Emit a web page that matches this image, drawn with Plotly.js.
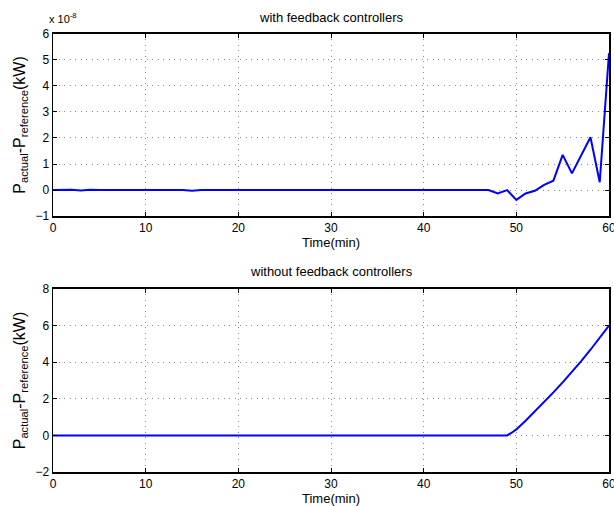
<!DOCTYPE html>
<html><head><meta charset="utf-8">
<script src="https://cdn.plot.ly/plotly-3.0.1.min.js"></script>
<style>html,body{margin:0;padding:0;background:#fff}#c{width:614px;height:506px}</style>
</head><body><div id="c"></div>
<script>
// top: with feedback controllers (values in units of 1e-8 kW)
var timeTop = [0,1,2,3,4,5,6,7,8,9,10,11,12,13,14,15,16,17,18,19,20,21,22,23,24,25,26,27,28,29,30,31,32,33,34,35,36,37,38,39,40,41,42,43,44,45,46,47,48,49,50,51,52,53,54,55,56,57,58,59,60];
var devTop = [0,0,0.01,-0.02,0.01,0,0,0.01,0,0,-0.01,0,0,0.01,0,-0.03,0,0,0,0,0,0,0,0,0,0,0,0,0,0,0,0,0.02,0,0.02,0,0.02,0,0,0.01,0,0,0,0,0,0,0,0,-0.13,0,-0.38,-0.13,-0.03,0.2,0.36,1.35,0.64,1.33,2.03,0.3,5.26];
// bottom: without feedback controllers (kW)
var timeBot = [0,10,20,30,40,49,49.5,50,51,52,53,54,55,56,57,58,59,60];
var devBot = [0,0,0,0,0,0,0.15,0.33,0.8,1.3,1.82,2.35,2.9,3.47,4.06,4.68,5.32,6.0];
var titles = ["with feedback controllers","without feedback controllers"];
var xTitle = "Time(min)";
var yTitle = "P<sub>actual</sub>-P<sub>reference</sub>(kW)";

var line = {color:'#0000ff', width:2};
var traces = [
  {x:timeTop, y:devTop, type:'scatter', mode:'lines', line:line, xaxis:'x', yaxis:'y'},
  {x:timeBot, y:devBot, type:'scatter', mode:'lines', line:line, xaxis:'x2', yaxis:'y2'}
];
var font = {family:'Liberation Sans, Arial, sans-serif', size:12, color:'#000'};
var common = {showline:true, linecolor:'#000', linewidth:1.5, mirror:'ticks', ticks:'inside', ticklen:4, tickcolor:'#000',
  showgrid:true, gridcolor:'#888', griddash:'1px,4.5px', gridwidth:1, zeroline:false, tickfont:{size:12}};
function xax(anchor){return Object.assign({}, common, {domain:[0,1], range:[0,60], dtick:10, tick0:0, anchor:anchor,
  ticklabeloverflow:'allow', title:{text:xTitle, font:{size:13}, standoff:2}});}
function yax(anchor, dom, rng, dt){return Object.assign({}, common, {domain:dom, range:rng, dtick:dt, anchor:anchor,
  title:{text:yTitle, font:{size:16}, standoff:6}});}
var layout = {
  width:614, height:506, paper_bgcolor:'#fff', plot_bgcolor:'#fff', showlegend:false, font:font,
  margin:{l:53, r:5, t:0, b:0},
  xaxis: xax('y'), yaxis: yax('x', [0.573,0.933], [-1,6], 1),
  xaxis2: xax('y2'), yaxis2: yax('x2', [0.067,0.429], [-2,8], 2),
  annotations:[
    {text:titles[0], xref:'paper', yref:'paper', x:0.5, y:1-17/506, xanchor:'center', yanchor:'middle', showarrow:false, font:{size:13}},
    {text:titles[1], xref:'paper', yref:'paper', x:0.5, y:1-271/506, xanchor:'center', yanchor:'middle', showarrow:false, font:{size:13}},
    {text:'x 10<sup>-8</sup>', xref:'paper', yref:'paper', x:-0.01, y:1-18/506, xanchor:'left', yanchor:'middle', showarrow:false, font:{size:11}}
  ]
};
Plotly.newPlot('c', traces, layout, {displayModeBar:false, staticPlot:true});
</script></body></html>
